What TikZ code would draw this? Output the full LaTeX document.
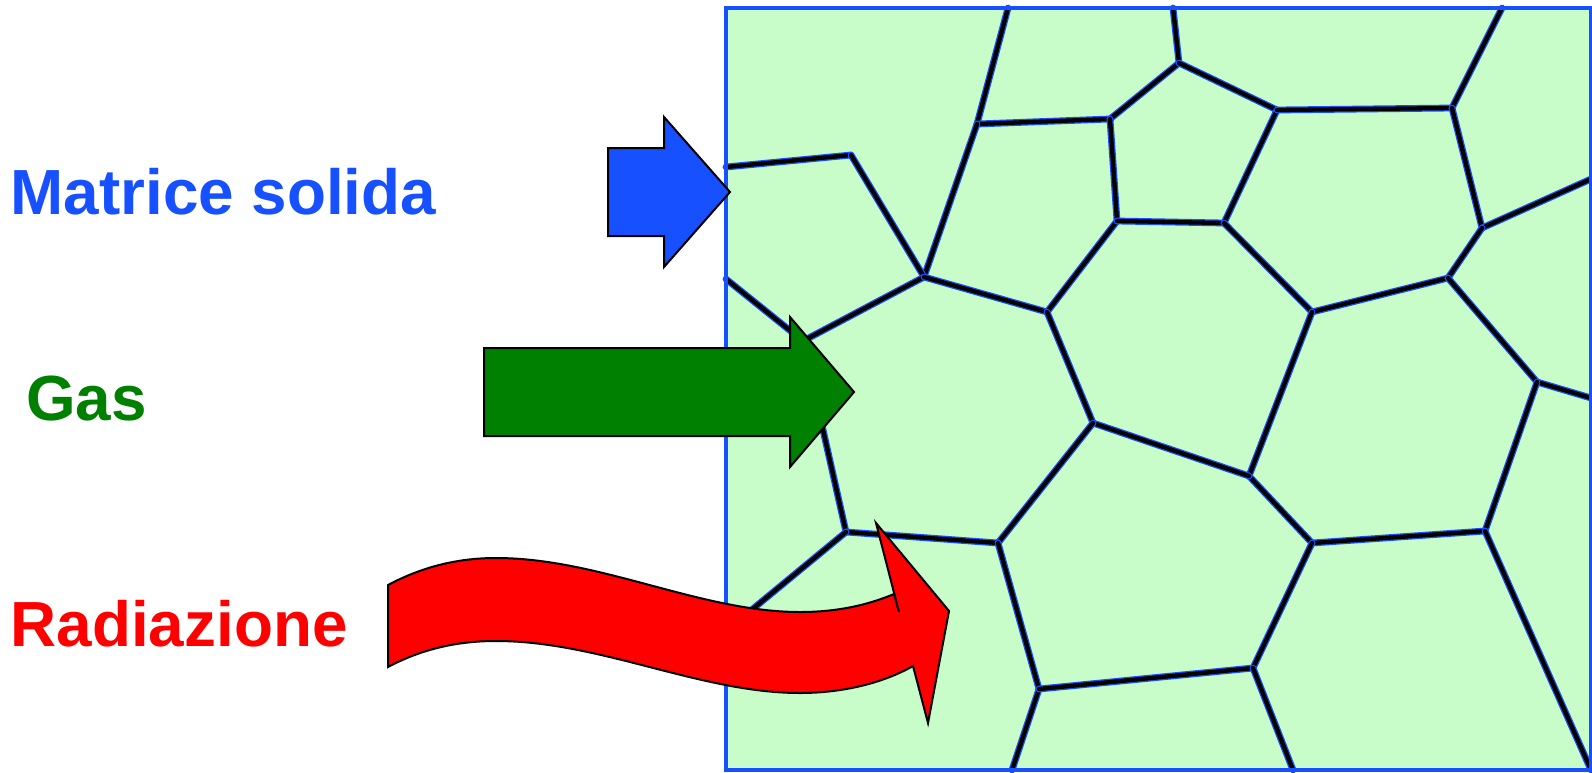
\documentclass[tikz,border=0pt]{standalone}
\usepackage{fontspec}
\setmainfont{Liberation Sans}
\definecolor{cblue}{RGB}{22,80,255}
\definecolor{cgreen}{RGB}{0,128,0}
\definecolor{cred}{RGB}{255,0,0}
\definecolor{cfill}{RGB}{200,252,200}
\tikzset{
  cellline/.style={draw=black, line width=4.3pt, line join=round, line cap=round,
    preaction={draw=cblue, line width=6.8pt, line cap=round}},
  arrowshape/.style={draw=black, line width=2pt, line join=miter},
  lbl/.style={anchor=base west, inner sep=0pt, font=\fontsize{63.8}{64}\selectfont\bfseries}
}
\begin{document}
\begin{tikzpicture}[x=1pt,y=-1pt]
\useasboundingbox (0,0) rectangle (1592,772);
% box
\fill[cfill] (726,8) rectangle (1591,770);
% vertices
\coordinate (A) at (1008,8);
\coordinate (B) at (977,124);
\coordinate (C) at (1110,119);
\coordinate (D) at (1179,63);
\coordinate (E) at (1173,8);
\coordinate (F) at (726,167);
\coordinate (G) at (851,155);
\coordinate (H) at (924,277);
\coordinate (I) at (726,279);
\coordinate (J) at (803,341);
\coordinate (K) at (846,532);
\coordinate (L) at (1047,312);
\coordinate (M) at (1117,221);
\coordinate (N) at (1224,223);
\coordinate (O) at (1277,110);
\coordinate (P) at (1452,108);
\coordinate (Q) at (1502,8);
\coordinate (R) at (1482,228);
\coordinate (S) at (1591,179);
\coordinate (T) at (1448,278);
\coordinate (U) at (1312,312);
\coordinate (V) at (1537,382);
\coordinate (W) at (1591,398);
\coordinate (X) at (1485,531);
\coordinate (Y) at (1312,543);
\coordinate (Z) at (1249,476);
\coordinate (AA) at (1093,423);
\coordinate (AB) at (998,543);
\coordinate (KL) at (726,631);
\coordinate (AC) at (1039,689);
\coordinate (AD) at (1012,770);
\coordinate (AE) at (1253,668);
\coordinate (AF) at (1293,770);
\coordinate (AG) at (1591,770);
% cell walls
\foreach \p/\q in {A/B,B/C,C/D,D/E,B/H,F/G,G/H,I/J,H/J,J/K,H/L,L/M,C/M,M/N,D/O,O/N,O/P,P/Q,P/R,R/S,R/T,N/U,U/T,T/V,V/W,V/X,X/Y,Y/Z,U/Z,Z/AA,L/AA,AA/AB,AB/K,K/KL,AB/AC,AC/AD,AC/AE,AE/Y,AE/AF,X/AG}
  \path[cellline] (\p) -- (\q);
% border
\draw[cblue, line width=3.5pt] (726,8) rectangle (1591,770);
% arrows
\draw[arrowshape, fill=cblue] (608,148) -- (664,148) -- (664,117) -- (730,192) -- (664,267) -- (664,236) -- (608,236) -- cycle;
\draw[arrowshape, fill=cgreen] (484,348) -- (790,348) -- (790,317) -- (854,392) -- (790,467) -- (790,436) -- (484,436) -- cycle;
\draw[arrowshape, fill=cred]
  (388,585) .. controls (420,568) and (455,558) .. (496,558)
  .. controls (600,558) and (700,612) .. (800,612)
  .. controls (840,612) and (870,604) .. (894,594)
  -- (899,612) -- (876,523) -- (949,611) -- (928,723) -- (913,666)
  .. controls (885,682) and (845,693) .. (800,693)
  .. controls (700,693) and (600,641) .. (496,641)
  .. controls (455,641) and (420,650) .. (388,667) -- cycle;
% labels
\node[lbl, text=cblue] (ms) at (10.5,214) {Matrice solida};
\node[lbl, text=cgreen] (gas) at (26,420) {Gas};
\node[lbl, text=cred] (rad) at (10.5,646) {Radiazione};
\end{tikzpicture}
\end{document}
